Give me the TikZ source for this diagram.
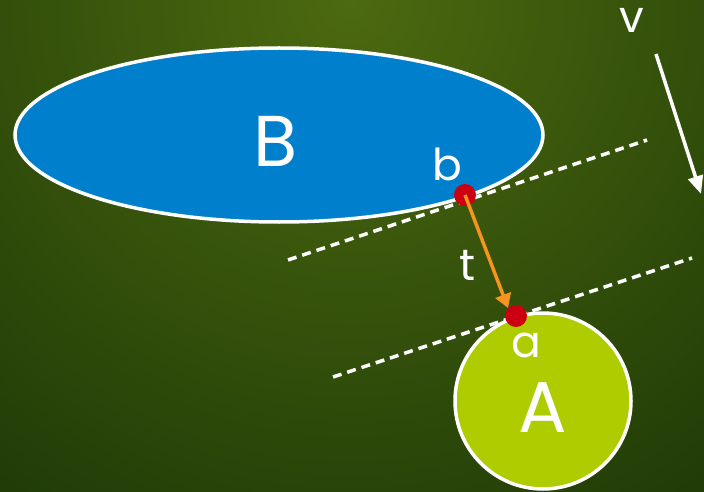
\documentclass[tikz,border=0pt]{standalone}
\usepackage{fontspec}
\setmainfont{Poppins}
\usetikzlibrary{arrows.meta,shapes.geometric}
\definecolor{bgdark}{HTML}{1D3806}
\definecolor{bglight}{HTML}{4C6A10}
\definecolor{bblue}{HTML}{0080CC}
\definecolor{agreen}{HTML}{AECC00}
\definecolor{dotred}{HTML}{CC0010}
\definecolor{arrorange}{HTML}{F7941D}
\tikzset{
  shapeborder/.style={draw=white, line width=3.5pt},
  tangent/.style={draw=white, line width=3.5pt, dash pattern=on 9pt off 6pt},
  contact/.style={circle, fill=dotred, inner sep=0pt, minimum size=22pt},
  lbl/.style={text=white, inner sep=0pt},
}
\begin{document}
\begin{tikzpicture}[x=1pt,y=-1pt]
\useasboundingbox (0,0) rectangle (704,492);
\begin{scope}
\clip (0,0) rectangle (704,492);
\shade[inner color=bglight, outer color=bgdark] (-300,-650) rectangle (1000,650);
\end{scope}
% shapes
\node[ellipse, shapeborder, fill=bblue, minimum width=528pt, minimum height=174pt, inner sep=0pt] (B) at (279,135) {};
\node[circle, shapeborder, fill=agreen, minimum size=176pt, inner sep=0pt] (A) at (543,401) {};
% tangent lines
\coordinate (t1s) at (288,260);
\coordinate (t1e) at (647,140);
\coordinate (t2s) at (333,377);
\coordinate (t2e) at (692,258);
\draw[tangent] (t1s) -- (t1e);
\draw[tangent] (t2s) -- (t2e);
% labels
\node[lbl, font=\fontsize{72}{72}\selectfont] (Bl) at (276,141) {B};
\node[lbl, font=\fontsize{72}{72}\selectfont] (Al) at (543,408) {A};
% contact points
\node[contact] (b) at (465,195) {};
\node[contact] (a) at (516,316) {};
\draw[arrorange, line width=3.5pt, -{Triangle[length=14pt,width=16pt]}] (b.center) -- (a.north west);
\node[lbl, font=\fontsize{44}{44}\selectfont] (bl) at (447,164) {b};
\node[lbl, font=\fontsize{44}{44}\selectfont] (tl) at (468,265) {t};
\node[lbl, font=\fontsize{44}{44}\selectfont] (al) at (526,345) {a};
\node[lbl, font=\fontsize{44}{44}\selectfont] (vl) at (632,20) {v};
% velocity arrow
\coordinate (v1) at (656,54);
\coordinate (v2) at (701,194);
\draw[white, line width=3.5pt, -{Triangle[length=18pt,width=15pt]}] (v1) -- (v2);
\end{tikzpicture}
\end{document}
